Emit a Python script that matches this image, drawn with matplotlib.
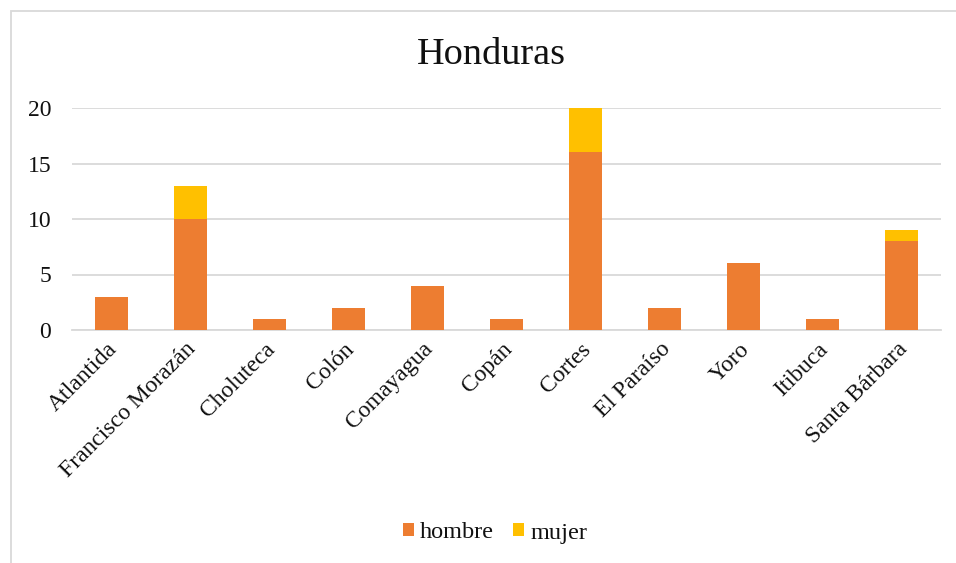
import matplotlib
matplotlib.use("Agg")
import matplotlib.pyplot as plt
import matplotlib.transforms as mtransforms
import numpy as np
from matplotlib.patches import Rectangle

categories = ["Atlantida", "Francisco Morazán", "Choluteca", "Colón", "Comayagua",
              "Copán", "Cortes", "El Paraíso", "Yoro", "Itibuca", "Santa Bárbara"]
hombre = [3, 10, 1, 2, 4, 1, 16, 2, 6, 1, 8]
mujer = [0, 3, 0, 0, 0, 0, 4, 0, 0, 0, 1]
yticks = [0, 5, 10, 15, 20]

plt.rcParams['font.family'] = ['Liberation Serif', 'DejaVu Serif']

W, H = 956, 563
fig = plt.figure(figsize=(W/100, H/100), dpi=100)
ax = fig.add_axes([72/W, 1-330/H, (941-72)/W, (330-108)/H])

x = np.arange(len(categories))
ax.bar(x, hombre, width=0.41, color="#ED7D31", label="hombre", zorder=3)
ax.bar(x, mujer, width=0.41, bottom=hombre, color="#FFC000", label="mujer", zorder=3)

ax.set_xlim(-0.5, len(categories)-0.5)
ax.set_ylim(0, 20)
ax.set_yticks(yticks)
ax.set_yticklabels([str(t) for t in yticks], fontsize=17, color="#111111")
ax.yaxis.grid(True, color="#D9D9D9", linewidth=1.3, zorder=0)
ax.set_axisbelow(True)
ax.tick_params(axis='both', length=0)
ax.tick_params(axis='y', pad=15)
ax.set_xticks(x)
ax.set_xticklabels(categories, rotation=45, ha="right", rotation_mode="anchor",
                   fontsize=17, color="#111111")
ax.tick_params(axis='x', pad=7)
off = mtransforms.ScaledTranslation(-5/100, 1/100, fig.dpi_scale_trans)
for lbl in ax.get_xticklabels():
    lbl.set_transform(lbl.get_transform() + off)
for s in ["top", "right", "left"]:
    ax.spines[s].set_visible(False)
ax.spines["bottom"].set_color("#D9D9D9")
ax.spines["bottom"].set_linewidth(1.3)

fig.text(491/W, 1-55/H, "Honduras", ha="center", va="center", fontsize=27.5, color="#111111")

leg = fig.legend(loc="center", bbox_to_anchor=(495/W, 1-533/H), ncol=2, frameon=False,
                 fontsize=17.5, handlelength=0.45, handleheight=0.45, handletextpad=0.25,
                 columnspacing=0.8)
for t in leg.get_texts():
    t.set_color("#111111")

fig.patches.append(Rectangle((10.5/W, -0.1), 1.2, 1-11.5/H+0.1, transform=fig.transFigure,
                             fill=False, edgecolor="#D9D9D9", linewidth=1.3))

fig.savefig("out.png", dpi=100)
